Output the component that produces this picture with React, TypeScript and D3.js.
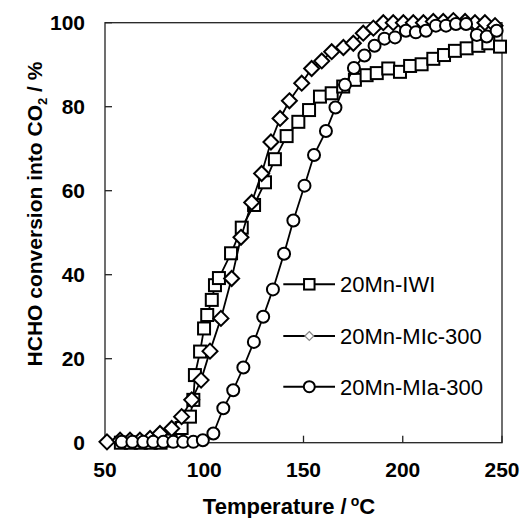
import React from "react";
import * as d3 from "d3";

const xTicks = [50, 100, 150, 200, 250];
const yTicks = [0, 20, 40, 60, 80, 100];

const iwiT = [58, 63, 68, 73, 78, 83, 88.6, 92.8, 94.5, 95.3, 97.9, 99.9, 101.5, 103.8, 105.4, 107.4, 113.5, 118.9, 125.1, 130.6, 135.6, 141.5, 147.4, 152.8, 158.3, 164.2, 170.0, 175.9, 181.8, 186.9, 192.7, 198.6, 203.7, 209.5, 215.4, 220.8, 226.3, 232.2, 238.1, 243.1, 249.0];
const iwiV = [0, 0, 0, 0, 0, 0.5, 3.5, 6.2, 10.2, 16.1, 21.7, 27.2, 30.4, 34.0, 37.5, 39.2, 45.1, 51.2, 56.6, 62.0, 67.5, 73.0, 76.4, 79.2, 82.4, 83.2, 84.8, 86.4, 87.5, 88.0, 89.1, 88.3, 89.7, 90.1, 91.4, 92.3, 93.3, 93.9, 94.5, 95.1, 94.3];

const micT = [51, 57.6, 62.6, 67.6, 72.7, 77.7, 83.6, 88.6, 93.7, 98.4, 102.9, 108.4, 113.8, 118.5, 123.9, 128.9, 133.6, 138.2, 142.9, 149.1, 154.1, 159.2, 164.2, 170.1, 175.1, 180.1, 185.2, 190.2, 195.2, 200.3, 205.3, 210.4, 215.4, 220.4, 225.5, 231.4, 236.4, 241.4, 246.5];
const micV = [0.2, 0.6, 0.6, 0.6, 1.0, 2.2, 3.4, 6.2, 10.2, 14.9, 21.8, 29.6, 39.1, 48.9, 57.2, 64.1, 71.6, 77.2, 81.4, 85.6, 89.1, 90.9, 93.1, 94.1, 95.1, 97.5, 98.7, 100, 100, 100, 100, 100, 100.3, 100.3, 100.5, 100.3, 100, 100, 99.3];

const miaT = [58.4, 63.8, 69.3, 74.3, 79.4, 84.4, 89.4, 94.5, 99.3, 104.6, 109.6, 114.6, 119.7, 125, 129.7, 134.6, 140.2, 144.9, 150.5, 155.3, 161.3, 166.1, 170.9, 175.4, 180.7, 185.8, 190.8, 196.1, 201.6, 206.6, 211.7, 216.7, 221.8, 226.8, 231.9, 237.3, 242.3, 247.3];
const miaV = [0.2, 0.2, 0.2, 0.2, 0.2, 0.2, 0.2, 0.2, 0.6, 2.2, 8.2, 12.5, 17.9, 24, 30, 36.5, 45, 52.9, 61.2, 68.5, 74.2, 79.8, 85.2, 89.2, 92.2, 94.5, 96.2, 96.5, 98.1, 97.7, 98.1, 99.3, 99.3, 99.7, 99.7, 97.1, 96.7, 98.1];

const seriesNames = ["20Mn-IWI", "20Mn-MIc-300", "20Mn-MIa-300"];

const FONT = "'Liberation Sans', Arial, sans-serif";

const x = d3.scaleLinear().domain([50, 250]).range([105, 502]);
const y = d3.scaleLinear().domain([0, 100]).range([442.7, 22.7]);

type Shape = "square" | "diamond" | "circle";

function Marker({ cx, cy, shape, size, stroke = "#000", sw = 2 }: { cx: number; cy: number; shape: Shape; size: number; stroke?: string; sw?: number }) {
  if (shape === "square") {
    return <rect x={cx - size / 2} y={cy - size / 2} width={size} height={size} fill="#fff" stroke={stroke} strokeWidth={sw} />;
  }
  if (shape === "diamond") {
    const h = size / 2;
    return <polygon points={`${cx},${cy - h} ${cx + h},${cy} ${cx},${cy + h} ${cx - h},${cy}`} fill="#fff" stroke={stroke} strokeWidth={sw} />;
  }
  return <circle cx={cx} cy={cy} r={size / 2} fill="#fff" stroke={stroke} strokeWidth={sw} />;
}

const line = d3.line<[number, number]>().x((d) => x(d[0])).y((d) => y(d[1]));

function Series({ ts, vs, shape, size }: { ts: number[]; vs: number[]; shape: Shape; size: number }) {
  const pts: [number, number][] = ts.map((t, i) => [t, vs[i]]);
  return (
    <g>
      <path d={line(pts) || ""} fill="none" stroke="#000" strokeWidth={1.8} />
      {pts.map((p, i) => (
        <Marker key={i} cx={x(p[0])} cy={y(p[1])} shape={shape} size={size} />
      ))}
    </g>
  );
}

export default function App() {
  const legendY = [284.3, 336, 386.7];
  const shapes: Shape[] = ["square", "diamond", "circle"];
  return (
    <svg width={523} height={518} style={{ position: "absolute", left: 0, top: 0, background: "#fff" }}>
      <rect x={0} y={0} width={523} height={518} fill="#fff" />
      {/* frame */}
      <rect x={105} y={22.7} width={397} height={420} fill="none" stroke="#222" strokeWidth={1.3} />
      {/* ticks */}
      {yTicks.map((t) => (
        <line key={"yt" + t} x1={105} x2={112} y1={y(t)} y2={y(t)} stroke="#222" strokeWidth={1.3} />
      ))}
      {xTicks.map((t) => (
        <line key={"xt" + t} x1={x(t)} x2={x(t)} y1={442.7} y2={435.7} stroke="#222" strokeWidth={1.3} />
      ))}
      {/* tick labels */}
      {yTicks.map((t) => (
        <text key={"yl" + t} x={85} y={y(t) + 7.5} textAnchor="end" fontFamily={FONT} fontWeight="bold" fontSize={21} fill="#000">
          {t}
        </text>
      ))}
      {xTicks.map((t) => (
        <text key={"xl" + t} x={x(t)} y={476.7} textAnchor="middle" fontFamily={FONT} fontWeight="bold" fontSize={21} fill="#000">
          {t}
        </text>
      ))}
      {/* axis titles */}
      <text x={289} y={514} textAnchor="middle" fontFamily={FONT} fontWeight="bold" fontSize={22} fill="#000">
        Temperature /<tspan dx={4} dy={-8} fontSize={14}>o</tspan>
        <tspan dy={8}>C</tspan>
      </text>
      <text transform="translate(42,214) rotate(-90)" textAnchor="middle" fontFamily={FONT} fontWeight="bold" fontSize={21} fill="#000">
        HCHO conversion into CO<tspan dy={5} fontSize={13}>2</tspan>
        <tspan dy={-5}> / %</tspan>
      </text>
      {/* series */}
      <Series ts={iwiT} vs={iwiV} shape="square" size={12} />
      <Series ts={micT} vs={micV} shape="diamond" size={15} />
      <Series ts={miaT} vs={miaV} shape="circle" size={12} />
      {/* legend */}
      {seriesNames.map((name, i) => (
        <g key={name}>
          <line x1={283.3} x2={335} y1={legendY[i]} y2={legendY[i]} stroke="#000" strokeWidth={2} />
          {shapes[i] === "diamond" ? (
            <Marker cx={309.3} cy={legendY[i]} shape="diamond" size={9} stroke="#888" sw={1.2} />
          ) : (
            <Marker cx={309.3} cy={legendY[i]} shape={shapes[i]} size={shapes[i] === "square" ? 10.5 : 11} />
          )}
          <text x={340} y={legendY[i] + 7.8} fontFamily={FONT} fontSize={22} fill="#000">
            {name}
          </text>
        </g>
      ))}
    </svg>
  );
}
